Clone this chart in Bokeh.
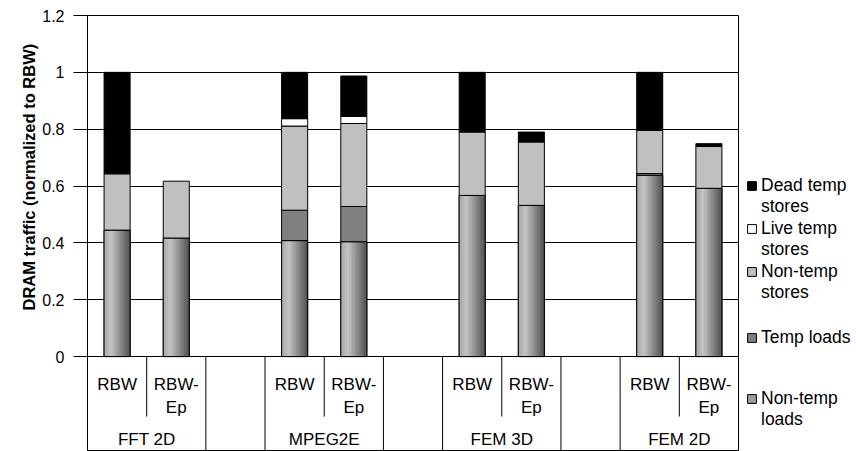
from bokeh.plotting import figure
from bokeh.layouts import row
from bokeh.models import (ColumnDataSource, FactorRange, Range1d, FixedTicker,
                          Legend, LegendItem, PrintfTickFormatter, Title)
from bokeh.core.properties import value
from bokeh.embed import file_html
from bokeh.resources import INLINE

# ---------------- data ----------------
benchmarks = ["FFT 2D", "MPEG2E", "FEM 3D", "FEM 2D"]
configs = ["RBW", "RBW-Ep"]
config_labels = ["RBW", "RBW-\nEp"]
series_keys = ["ntl", "tl", "nts", "lts", "dts"]
series_names = ["Non-temp\nloads", "Temp loads", "Non-temp\nstores",
                "Live temp\nstores", "Dead temp\nstores"]
# order: FFT2D RBW, FFT2D RBW-Ep, MPEG2E RBW, MPEG2E RBW-Ep, FEM3D ..., FEM2D ...
non_temp_loads = [0.445, 0.417, 0.408, 0.404, 0.567, 0.532, 0.638, 0.592]
temp_loads = [0.0, 0.0, 0.107, 0.124, 0.0, 0.0, 0.006, 0.0]
non_temp_stores = [0.198, 0.200, 0.296, 0.292, 0.223, 0.223, 0.152, 0.147]
live_temp_stores = [0.0, 0.0, 0.026, 0.025, 0.0, 0.0, 0.0, 0.0]
dead_temp_stores = [0.357, 0.0, 0.163, 0.142, 0.210, 0.035, 0.204, 0.010]
y_ticks = [0, 0.2, 0.4, 0.6, 0.8, 1.0, 1.2]
y_title = "DRAM traffic (normalized to RBW)"

FONT = "Liberation Sans"
BAR_W = 0.44
Y_LOW = -0.334
COLORS = {"ntl": "#9c9c9c", "tl": "#808080", "nts": "#c0c0c0",
          "lts": "#ffffff", "dts": "#000000"}
# legend entry placement (pixels from bottom of legend panel), top to bottom
LEGEND_POS = {"dts": 234, "lts": 191, "nts": 148, "tl": 103, "ntl": 21}

factors = [(b, c) for b in benchmarks for c in configs]
x_range = FactorRange(*factors, group_padding=1.0, factor_padding=0.0, range_padding=0.0)

p = figure(width=739, height=451, x_range=x_range,
           y_range=Range1d(Y_LOW, 1.2),
           x_axis_location=None,
           output_backend="svg", toolbar_location=None,
           min_border_left=87, min_border_right=1, min_border_top=15,
           min_border_bottom=0)
p.outline_line_color = "black"
p.outline_line_width = 1
p.xgrid.visible = False
p.ygrid.ticker = FixedTicker(ticks=y_ticks)
p.ygrid.grid_line_color = "black"
p.ygrid.grid_line_width = 1

ya = p.yaxis[0]
ya.ticker = FixedTicker(ticks=y_ticks)
ya.bounds = (0, 1.2)
ya.formatter = PrintfTickFormatter(format="%g")
ya.major_label_text_font = FONT
ya.major_label_text_font_size = "16px"
ya.major_label_text_color = "black"
ya.major_label_standoff = 9
ya.major_tick_in = 0
ya.major_tick_out = 14
ya.minor_tick_out = 0
ya.minor_tick_in = 0
ya.axis_line_color = "black"
ya.major_tick_line_color = "black"

title = Title(text=y_title, align="left", offset=141, standoff=4,
              text_font=FONT, text_font_size="16.5px", text_font_style="bold",
              text_color="black")
p.add_layout(title, "left")

# ---------------- stacked segments ----------------
def cum(*arrs):
    return [sum(vals) for vals in zip(*arrs)]

top_tl = cum(non_temp_loads, temp_loads)
top_nts = cum(non_temp_loads, temp_loads, non_temp_stores)
top_lts = cum(non_temp_loads, temp_loads, non_temp_stores, live_temp_stores)
top_dts = cum(non_temp_loads, temp_loads, non_temp_stores, live_temp_stores, dead_temp_stores)

def seg_source(bottoms, tops):
    xs, bs, ts = [], [], []
    for f, b, t in zip(factors, bottoms, tops):
        if t - b > 1e-9:
            xs.append(f); bs.append(b); ts.append(t)
    return ColumnDataSource(dict(x=xs, bottom=bs, top=ts))

sources = {
    "ntl": seg_source([0] * len(factors), non_temp_loads),
    "tl": seg_source(non_temp_loads, top_tl),
    "nts": seg_source(top_tl, top_nts),
    "lts": seg_source(top_nts, top_lts),
    "dts": seg_source(top_lts, top_dts),
}

# base of non-temp loads
p.vbar(x="x", bottom="bottom", top="top", width=BAR_W, fill_color=COLORS["ntl"],
       line_color="black", line_width=1, source=sources["ntl"])

# horizontal gradient shading over non-temp loads
def shade(t):
    if t < 0.28:
        c = 165 + (198 - 165) * (t / 0.28)
    else:
        c = 198 - (198 - 78) * ((t - 0.28) / 0.72)
    c = int(round(c))
    return "#%02x%02x%02x" % (c, c, c)

n_strips = 18
sx, sb, st, sc = [], [], [], []
for f, v in zip(factors, non_temp_loads):
    for k in range(n_strips):
        t = (k + 0.5) / n_strips
        sx.append((f[0], f[1], -BAR_W / 2 + t * BAR_W))
        sb.append(0)
        st.append(v)
        sc.append(shade(t))
strip_src = ColumnDataSource(dict(x=sx, bottom=sb, top=st, color=sc))
p.vbar(x="x", bottom="bottom", top="top", width=BAR_W / n_strips * 1.25,
       fill_color="color", line_color=None, source=strip_src)
p.vbar(x="x", bottom="bottom", top="top", width=BAR_W, fill_color=None,
       line_color="black", line_width=1, source=sources["ntl"])

for key in ["tl", "nts", "lts", "dts"]:
    p.vbar(x="x", bottom="bottom", top="top", width=BAR_W, fill_color=COLORS[key],
           line_color="black", line_width=1, source=sources[key])

# ---------------- category label boxes ----------------
gx = []
for b in benchmarks:
    gx.append((b, configs[0], -0.5))
    gx.append((b, configs[-1], 0.5))
p.segment(x0=gx, y0=0, x1=gx, y1=Y_LOW, line_color="black", line_width=1)
sub_x = [(b, configs[0], 0.5) for b in benchmarks]
p.segment(x0=sub_x, y0=0, x1=sub_x, y1=-0.211, line_color="black", line_width=1)

lab_src = ColumnDataSource(dict(x=factors,
                                text=[config_labels[configs.index(c)] for _, c in factors]))
p.text(x="x", y=-0.065, text="text", source=lab_src, text_align="center",
       text_baseline="top", text_font=value(FONT), text_font_size="17px",
       text_line_height=1.2, text_color="black")
grp_src = ColumnDataSource(dict(x=[(b, configs[0], 0.5) for b in benchmarks], text=benchmarks))
p.text(x="x", y=-0.292, text="text", source=grp_src, text_align="center",
       text_baseline="middle", text_font=value(FONT), text_font_size="17px",
       text_color="black")

# ---------------- legend (separate panel to the right) ----------------
pl = figure(width=117, height=451, x_range=x_range, y_range=Range1d(5, 6),
            x_axis_location=None, y_axis_location=None,
            output_backend="svg", toolbar_location=None,
            min_border_left=0, min_border_right=0, min_border_top=0,
            min_border_bottom=0)
pl.outline_line_color = None
pl.xgrid.visible = False
pl.ygrid.visible = False
leg_r = {}
for key in series_keys:
    leg_r[key] = pl.vbar(x="x", bottom="bottom", top="top", width=BAR_W,
                         fill_color=COLORS[key], line_color="black", line_width=1,
                         source=sources[key])
blank_r = pl.vbar(x="x", bottom="bottom", top="top", width=BAR_W, fill_alpha=0,
                  line_alpha=0, source=sources["ntl"])

for key, name in zip(series_keys, series_names):
    lines = name.split("\n")
    items = [LegendItem(label=lines[0], renderers=[leg_r[key]])]
    for extra in lines[1:]:
        items.append(LegendItem(label=extra, renderers=[blank_r]))
    lg = Legend(items=items, location=(7, LEGEND_POS[key]), orientation="vertical",
                border_line_color=None, background_fill_color=None,
                background_fill_alpha=0, margin=0, padding=0, spacing=0,
                glyph_width=11, glyph_height=11, label_standoff=4,
                label_text_font=FONT, label_text_font_size="17.5px",
                label_text_color="black", label_height=20)
    pl.add_layout(lg, "center")

layout = row(p, pl, spacing=0)
open("out.html", "w").write(file_html(layout, INLINE))
